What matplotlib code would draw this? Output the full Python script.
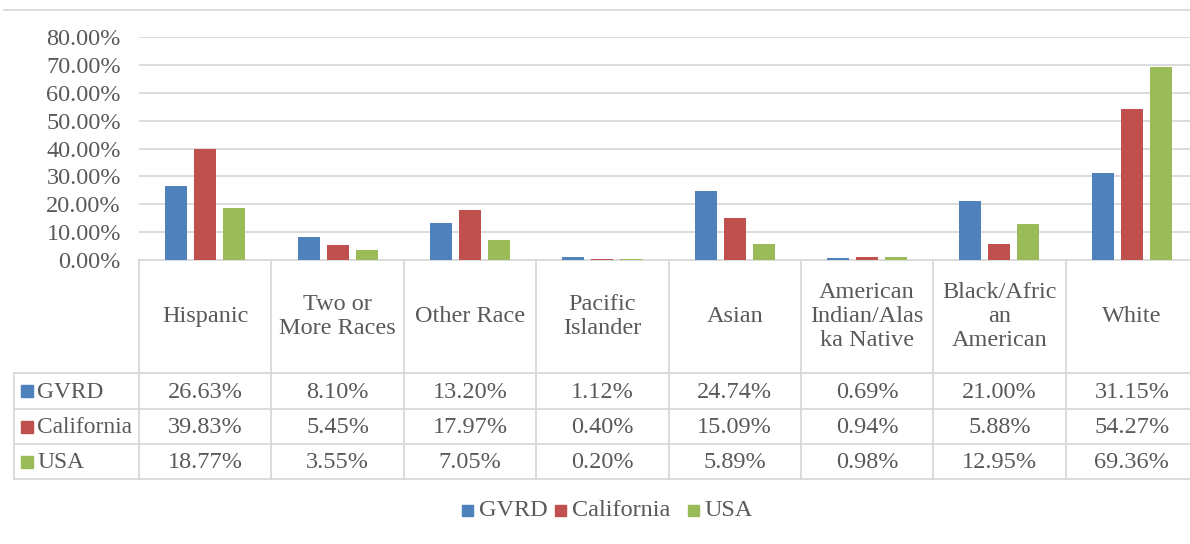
import numpy as np
import matplotlib
matplotlib.use('Agg')
import matplotlib.pyplot as plt
from matplotlib.patches import Rectangle

categories = ['Hispanic', 'Two or\nMore Races', 'Other Race', 'Pacific\nIslander', 'Asian',
              'American\nIndian/Alas\nka Native', 'Black/Afric\nan\nAmerican', 'White']
series = ['GVRD', 'California', 'USA']
gvrd = [26.63, 8.10, 13.20, 1.12, 24.74, 0.69, 21.00, 31.15]
california = [39.83, 5.45, 17.97, 0.40, 15.09, 0.94, 5.88, 54.27]
usa = [18.77, 3.55, 7.05, 0.20, 5.89, 0.98, 12.95, 69.36]
yticks = [0, 10, 20, 30, 40, 50, 60, 70, 80]

colors = ['#4F81BD', '#C0504D', '#9BBB59']
text_col = '#595959'
grid_col = '#d9d9d9'
plt.rcParams['font.family'] = ['Liberation Serif', 'DejaVu Serif']

W, H = 1190, 544
fig = plt.figure(figsize=(W / 100, H / 100), dpi=100)

# pixel geometry (origin top-left)
x0, x1 = 139, 1198        # plot / table columns
y_top, y_zero = 37, 260   # 80% and 0% lines
rows = [373, 409, 444, 479]
col_w = (x1 - x0) / len(categories)

ax = fig.add_axes([x0 / W, 1 - y_zero / H, (x1 - x0) / W, (y_zero - y_top) / H])
ax.set_xlim(0, len(categories))
ax.set_ylim(0, 80)
x = np.arange(len(categories)) + 0.5
bw = 22 / col_w
step = 29 / col_w
for k, vals in enumerate([gvrd, california, usa]):
    ax.bar(x + (k - 1) * step, vals, width=bw, color=colors[k], zorder=3)
ax.set_yticks(yticks)
ax.set_yticklabels([f'{v:.2f}%' for v in yticks])
ax.tick_params(axis='y', length=0, pad=13, labelsize=17.5, labelcolor=text_col)
ax.set_xticks([])
ax.grid(axis='y', color=grid_col, lw=1.3, zorder=0)
for s in ax.spines.values():
    s.set_visible(False)

# overlay in pixel coords for the data table and legend
ov = fig.add_axes([0, 0, 1, 1], zorder=-1)
ov.set_xlim(0, W)
ov.set_ylim(H, 0)
ov.axis('off')

lw = 1.3
ov.plot([4, W], [10, 10], color=grid_col, lw=lw)
# horizontal lines
ov.plot([x0, W], [y_zero, y_zero], color=grid_col, lw=lw)
for y in rows:
    ov.plot([14, W], [y, y], color=grid_col, lw=lw)
# vertical lines
ov.plot([14, 14], [rows[0], rows[-1]], color=grid_col, lw=lw)
for i in range(len(categories) + 1):
    xx = x0 + i * col_w
    ov.plot([xx, xx], [y_zero, rows[-1]], color=grid_col, lw=lw)

fs = 17.5
for i, cat in enumerate(categories):
    cx = x0 + (i + 0.5) * col_w
    ov.text(cx, (y_zero + rows[0]) / 2, cat, ha='center', va='center', fontsize=fs,
            color=text_col, linespacing=1.17)
    for r, vals in enumerate([gvrd, california, usa]):
        ov.text(cx, (rows[r] + rows[r + 1]) / 2 + 1, f'{vals[i]:.2f}%', ha='center',
                va='center', fontsize=fs, color=text_col)

for r, name in enumerate(series):
    cy = (rows[r] + rows[r + 1]) / 2
    ov.add_patch(Rectangle((21, cy - 6), 12, 12, color=colors[r]))
    ov.text(37, cy + 1, name, ha='left', va='center', fontsize=16.8, color=text_col)

# bottom legend
leg_x = [462, 555, 688]
for k, name in enumerate(series):
    ov.add_patch(Rectangle((leg_x[k], 505), 11, 11, color=colors[k]))
    ov.text(leg_x[k] + 17, 511, name, ha='left', va='center', fontsize=fs, color=text_col)

fig.savefig('out.png', dpi=100)
